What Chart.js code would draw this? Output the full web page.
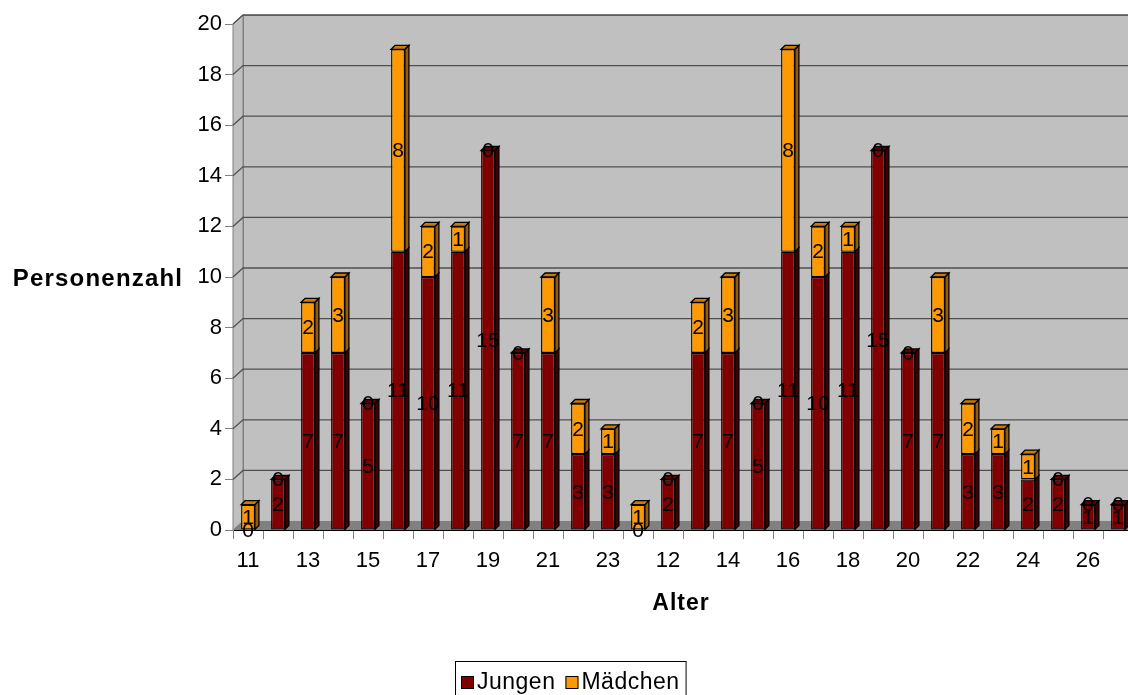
<!DOCTYPE html>
<html>
<head>
<meta charset="utf-8">
<script src="https://cdn.jsdelivr.net/npm/chart.js@4"></script>
<style>
html, body { margin: 0; padding: 0; background: #fff; overflow: hidden; }
#wrap { width: 1128px; height: 695px; overflow: hidden; position: relative; }
#box { width: 1140px; height: 695px; }
</style>
</head>
<body>
<div id="wrap"><div id="box"><canvas id="chart"></canvas></div></div>
<script>
// Daten
const alter = ['11','12','13','14','15','16','17','18','19','20','21','22','23',
               '11','12','13','14','15','16','17','18','19','20','21','22','23','24','25','26','27'];
const jungen   = [0,2,7,7,5,11,10,11,15,7,7,3,3, 0,2,7,7,5,11,10,11,15,7,7,3,3,2,2,1,1];
const maedchen = [1,0,2,3,0,8,2,1,0,0,3,2,1,     1,0,2,3,0,8,2,1,0,0,3,2,1,1,0,0,0];
const yTicks = [0,2,4,6,8,10,12,14,16,18,20];

const FONT = 'Liberation Sans, Arial, sans-serif';
Chart.defaults.font.family = FONT;

const seiten = ['#400000', '#9a5c00'];
const oben   = ['#600000', '#cc7a00'];
const tiefe = { dx: 4, dy: 4 };
const wand = { dx: 10, dy: 9 };

function flaechen(ctx, el, di, mitDeckel) {
    const w = el.width;
    const l = el.x - w / 2, r = el.x + w / 2;
    const top = el.y, base = el.base;
    ctx.fillStyle = seiten[di];
    ctx.beginPath();
    ctx.moveTo(r, top); ctx.lineTo(r + tiefe.dx, top - tiefe.dy);
    ctx.lineTo(r + tiefe.dx, base - tiefe.dy); ctx.lineTo(r, base); ctx.closePath();
    ctx.fill(); ctx.stroke();
    if (!mitDeckel) return;
    ctx.fillStyle = oben[di];
    ctx.beginPath();
    ctx.moveTo(l, top); ctx.lineTo(l + tiefe.dx, top - tiefe.dy);
    ctx.lineTo(r + tiefe.dx, top - tiefe.dy); ctx.lineTo(r, top); ctx.closePath();
    ctx.fill(); ctx.stroke();
}

// Wand, Boden, Gitterlinien und Balkenflächen (3D-Optik)
const wandPlugin = {
    id: 'wand3d',
    beforeDatasetsDraw(chart) {
        const { ctx, chartArea: a } = chart;
        const ys = chart.scales.y;
        const L = a.left, R = a.right, T = a.top, B = a.bottom;
        ctx.save();
        ctx.lineWidth = 1;
        ctx.fillStyle = '#c0c0c0';
        ctx.strokeStyle = '#808080';
        ctx.beginPath();
        ctx.moveTo(L, T); ctx.lineTo(L + wand.dx, T - wand.dy);
        ctx.lineTo(L + wand.dx, B - wand.dy); ctx.lineTo(L, B); ctx.closePath();
        ctx.fill(); ctx.stroke();
        ctx.fillRect(L + wand.dx, T - wand.dy, R - L, B - T);
        ctx.strokeRect(L + wand.dx + 0.5, T - wand.dy + 0.5, R - L, B - T);
        ctx.fillStyle = '#808080';
        ctx.beginPath();
        ctx.moveTo(L, B); ctx.lineTo(L + wand.dx, B - wand.dy);
        ctx.lineTo(R + wand.dx, B - wand.dy); ctx.lineTo(R, B); ctx.closePath();
        ctx.fill();
        ctx.strokeStyle = '#505050';
        ctx.lineWidth = 1.3;
        yTicks.forEach(v => {
            if (v === 0) return;
            const y = ys.getPixelForValue(v);
            ctx.beginPath();
            ctx.moveTo(L, y);
            ctx.lineTo(L + wand.dx, y - wand.dy);
            ctx.lineTo(R + wand.dx, y - wand.dy);
            ctx.stroke();
        });
        ctx.restore();
    },
    afterDatasetsDraw(chart) {
        const { ctx } = chart;
        const mJ = chart.getDatasetMeta(0), mM = chart.getDatasetMeta(1);
        ctx.save();
        ctx.strokeStyle = '#000';
        ctx.lineWidth = 1.3;
        alter.forEach((_, i) => {
            const j = jungen[i], m = maedchen[i];
            if (j) flaechen(ctx, mJ.data[i], 0, !m);
            if (m) flaechen(ctx, mM.data[i], 1, true);
        });
        ctx.restore();
    }
};

// Werte, Achsentitel und Legende
const beschriftung = {
    id: 'beschriftung',
    afterDraw(chart) {
        const { ctx } = chart;
        ctx.save();
        ctx.fillStyle = '#000';
        ctx.font = '21px ' + FONT;
        ctx.textAlign = 'center';
        ctx.textBaseline = 'middle';
        chart.data.datasets.forEach((ds, di) => {
            const meta = chart.getDatasetMeta(di);
            meta.data.forEach((el, i) => {
                const v = ds.data[i];
                let y;
                if (v > 0) y = (el.y + el.base) / 2;
                else y = di === 0 ? el.base : el.y;
                ctx.fillText(String(v), el.x, y + 1);
            });
        });

        ctx.font = 'bold 23px ' + FONT;
        ctx.letterSpacing = '1px';
        ctx.fillText('Alter', 681, 604);
        ctx.font = 'bold 24px ' + FONT;
        ctx.letterSpacing = '1.2px';
        ctx.fillText('Personenzahl', 98, 279);
        ctx.letterSpacing = '0.5px';

        // Legende
        ctx.font = '23px ' + FONT;
        ctx.textAlign = 'left';
        const box = 13, gap = 3, pad = 6, space = 10;
        const items = chart.data.datasets.map(ds => ({ label: ds.label, color: ds.backgroundColor }));
        let total = pad * 2;
        items.forEach((it, i) => {
            total += box + gap + ctx.measureText(it.label).width + (i < items.length - 1 ? space : 0);
        });
        let x = 455, yMid = 682;
        ctx.strokeStyle = '#000';
        ctx.lineWidth = 1;
        ctx.strokeRect(455.5, 661.5, total, 40);
        x += pad;
        items.forEach(it => {
            ctx.fillStyle = it.color;
            ctx.fillRect(x, yMid - 6, box, box);
            ctx.strokeRect(x + 0.5, yMid - 5.5, box - 1, box - 1);
            x += box + gap;
            ctx.fillStyle = '#000';
            ctx.fillText(it.label, x, yMid + 1);
            x += ctx.measureText(it.label).width + space;
        });
        ctx.restore();
    }
};

new Chart(document.getElementById('chart'), {
    type: 'bar',
    data: {
        labels: alter,
        datasets: [{
            label: 'Jungen',
            data: jungen,
            backgroundColor: '#800000',
            borderColor: '#000',
            borderWidth: ctx => ctx.raw ? 1.3 : 0,
            borderSkipped: false,
            barPercentage: 0.46,
            categoryPercentage: 1
        }, {
            label: 'Mädchen',
            data: maedchen,
            backgroundColor: '#ff9900',
            borderColor: '#000',
            borderWidth: ctx => ctx.raw ? 1.3 : 0,
            borderSkipped: false,
            barPercentage: 0.46,
            categoryPercentage: 1
        }]
    },
    options: {
        responsive: true,
        maintainAspectRatio: false,
        animation: false,
        layout: { padding: { top: 24, right: 7, left: 0, bottom: 0 } },
        plugins: {
            legend: { display: false },
            tooltip: { enabled: false }
        },
        scales: {
            x: {
                stacked: true,
                grid: { offset: true, drawOnChartArea: false, tickLength: 9, color: '#808080' },
                border: { color: '#000' },
                ticks: {
                    autoSkip: false,
                    maxRotation: 0,
                    padding: 9,
                    color: '#000',
                    font: { size: 22 },
                    callback: (v, i) => i % 2 === 0 ? alter[i] : ''
                },
                afterFit: s => { s.height = 165; }
            },
            y: {
                stacked: true,
                min: 0,
                max: 20,
                ticks: { stepSize: 2, padding: 3, color: '#000', font: { size: 22 } },
                grid: { drawOnChartArea: false, tickLength: 8, color: '#808080' },
                border: { color: '#808080' },
                afterFit: s => { s.width = 233; }
            }
        }
    },
    plugins: [wandPlugin, beschriftung]
});
</script>
</body>
</html>
